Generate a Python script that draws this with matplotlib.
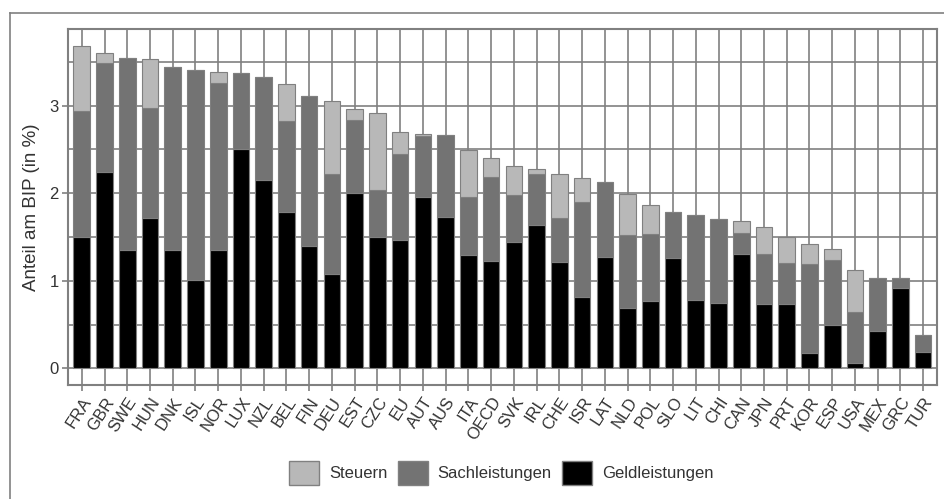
import matplotlib
matplotlib.use('Agg')
import matplotlib.pyplot as plt
from matplotlib.patches import Patch
from matplotlib.lines import Line2D
import numpy as np

plt.rcParams['font.family'] = ['Liberation Sans', 'DejaVu Sans']

# Daten (Anteil am BIP in %)
laender = ['FRA', 'GBR', 'SWE', 'HUN', 'DNK', 'ISL', 'NOR', 'LUX', 'NZL', 'BEL',
           'FIN', 'DEU', 'EST', 'CZC', 'EU', 'AUT', 'AUS', 'ITA', 'OECD', 'SVK',
           'IRL', 'CHE', 'ISR', 'LAT', 'NLD', 'POL', 'SLO', 'LIT', 'CHI', 'CAN',
           'JPN', 'PRT', 'KOR', 'ESP', 'USA', 'MEX', 'GRC', 'TUR']

geld = [1.50, 2.24, 1.35, 1.72, 1.35, 1.01, 1.35, 2.50, 2.15, 1.78,
        1.40, 1.08, 2.00, 1.50, 1.47, 1.95, 1.73, 1.29, 1.22, 1.44,
        1.64, 1.21, 0.81, 1.27, 0.69, 0.77, 1.26, 0.78, 0.75, 1.31,
        0.73, 0.73, 0.17, 0.50, 0.06, 0.43, 0.92, 0.19]

# obere Kante Sachleistungen (kumuliert)
sach_top = [2.94, 3.48, 3.54, 2.97, 3.44, 3.40, 3.26, 3.37, 3.32, 2.82,
            3.11, 2.22, 2.83, 2.04, 2.45, 2.65, 2.66, 1.96, 2.18, 1.98,
            2.22, 1.72, 1.90, 2.13, 1.52, 1.53, 1.78, 1.75, 1.70, 1.55,
            1.31, 1.20, 1.19, 1.24, 0.64, 1.03, 1.03, 0.38]

# Gesamthoehe inkl. Steuern
gesamt = [3.68, 3.60, 3.54, 3.53, 3.44, 3.40, 3.38, 3.37, 3.32, 3.24,
          3.11, 3.05, 2.96, 2.91, 2.70, 2.67, 2.66, 2.49, 2.40, 2.31,
          2.27, 2.22, 2.17, 2.13, 1.99, 1.86, 1.78, 1.75, 1.70, 1.68,
          1.61, 1.50, 1.42, 1.36, 1.12, 1.03, 1.03, 0.38]

geld = np.array(geld)
sach = np.array(sach_top) - geld
steuern = np.array(gesamt) - np.array(sach_top)

grau = '#808080'
text_farbe = '#333333'

fig = plt.figure(figsize=(9.44, 4.99), dpi=100)
ax = fig.add_axes([0.0724, 0.2285, 0.9205, 0.7128])

x = np.arange(len(laender))
kw = dict(width=0.73, edgecolor=grau, linewidth=0.8, zorder=3)
ax.bar(x, geld, color='black', **kw)
ax.bar(x, sach, bottom=geld, color='#737373', **kw)
ax.bar(x, steuern, bottom=geld + sach, color='#b8b8b8', **kw)

ax.set_xlim(-0.59, len(laender) - 1 + 0.62)
ax.set_ylim(-0.19, 3.87)
ax.set_yticks([0, 1, 2, 3])
ax.set_yticks([0.5, 1.5, 2.5, 3.5], minor=True)
ax.set_xticks(x)
ax.set_xticklabels(laender, rotation=57, ha='right', rotation_mode='anchor')

ax.set_axisbelow(True)
ax.grid(True, which='major', color=grau, linewidth=1.2, zorder=0)
ax.grid(True, which='minor', axis='y', color=grau, linewidth=1.2, zorder=0)
for s in ax.spines.values():
    s.set_color(grau)
    s.set_linewidth(1.5)
ax.tick_params(which='major', length=4, width=1.2, color=grau,
               labelsize=12, labelcolor=text_farbe, pad=3)
ax.tick_params(which='minor', length=0)
ax.set_ylabel('Anteil am BIP (in %)', fontsize=13.5, color=text_farbe, labelpad=7)

# Rahmen um die Grafik
fig.add_artist(Line2D([10 / 944, 10 / 944], [0, 1 - 13 / 499],
                      transform=fig.transFigure, color=grau, lw=1.2))
fig.add_artist(Line2D([10 / 944, 1], [1 - 13 / 499, 1 - 13 / 499],
                      transform=fig.transFigure, color=grau, lw=1.2))

handles = [Patch(facecolor='#b8b8b8', edgecolor=grau, label='Steuern'),
           Patch(facecolor='#737373', edgecolor=grau, label='Sachleistungen'),
           Patch(facecolor='black', edgecolor=grau, label='Geldleistungen')]
leg = fig.legend(handles=handles, loc='center', bbox_to_anchor=(0.531, 1 - 473 / 499),
                 ncol=3, frameon=False, fontsize=12, handlelength=1.8,
                 handleheight=1.8, columnspacing=0.6, handletextpad=0.6)
for t in leg.get_texts():
    t.set_color(text_farbe)

fig.savefig('out.png', dpi=100)
